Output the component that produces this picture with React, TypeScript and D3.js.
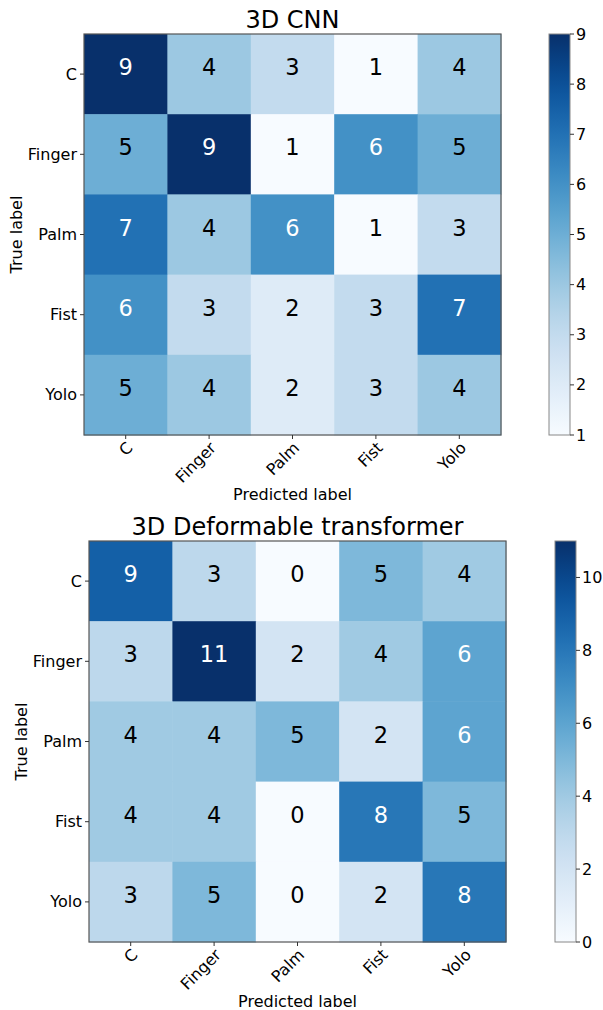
import * as d3 from "d3";

const labels = ["C", "Finger", "Palm", "Fist", "Yolo"];

const cnnTitle = "3D CNN";
const cnnValues = [
  [9, 4, 3, 1, 4],
  [5, 9, 1, 6, 5],
  [7, 4, 6, 1, 3],
  [6, 3, 2, 3, 7],
  [5, 4, 2, 3, 4],
];
const cnnTicks = [1, 2, 3, 4, 5, 6, 7, 8, 9];

const dtTitle = "3D Deformable transformer";
const dtValues = [
  [9, 3, 0, 5, 4],
  [3, 11, 2, 4, 6],
  [4, 4, 5, 2, 6],
  [4, 4, 0, 8, 5],
  [3, 5, 0, 2, 8],
];
const dtTicks = [0, 2, 4, 6, 8, 10];

const FONT = "DejaVu Sans, sans-serif";

type PanelProps = {
  id: string;
  title: string;
  values: number[][];
  ticks: number[];
  x0: number;
  y0: number;
  cbX: number;
};

function Panel({ id, title, values, ticks, x0, y0, cbX }: PanelProps) {
  const w = 417;
  const h = 401;
  const flat = values.flat();
  const vmin = d3.min(flat) ?? 0;
  const vmax = d3.max(flat) ?? 1;
  const color = d3.scaleSequential(d3.interpolateBlues).domain([vmin, vmax]);
  const thresh = (vmin + vmax) / 2;

  const x = d3.scaleBand().domain(labels).range([x0, x0 + w]);
  const y = d3.scaleBand().domain(labels).range([y0, y0 + h]);
  const cb = d3.scaleLinear().domain([vmin, vmax]).range([y0 + h, y0]);
  const cbW = 21;
  const stops = d3.range(0, 1.0001, 0.05);

  return (
    <g fontFamily={FONT}>
      <defs>
        <linearGradient id={id} x1="0" y1="1" x2="0" y2="0">
          {stops.map((t, i) => (
            <stop key={i} offset={t} stopColor={d3.interpolateBlues(t)} />
          ))}
        </linearGradient>
      </defs>
      <text x={x0 + w / 2} y={y0 - 6} fontSize={24} textAnchor="middle" fill="#000">
        {title}
      </text>

      {values.map((row, i) =>
        row.map((v, j) => (
          <g key={`${i}-${j}`}>
            <rect
              x={x(labels[j])}
              y={y(labels[i])}
              width={x.bandwidth() + 0.5}
              height={y.bandwidth() + 0.5}
              fill={color(v)}
            />
            <text
              x={(x(labels[j]) ?? 0) + x.bandwidth() / 2}
              y={(y(labels[i]) ?? 0) + y.bandwidth() / 2 - 7}
              fontSize={22.5}
              textAnchor="middle"
              dominantBaseline="central"
              fill={v > thresh ? "#fff" : "#000"}
            >
              {v}
            </text>
          </g>
        ))
      )}
      <rect x={x0} y={y0} width={w} height={h} fill="none" stroke="#555" strokeWidth={1.2} />

      {labels.map((l) => {
        const cy = (y(l) ?? 0) + y.bandwidth() / 2;
        return (
          <g key={"y" + l}>
            <line x1={x0 - 4} x2={x0} y1={cy} y2={cy} stroke="#333" />
            <text x={x0 - 7} y={cy} fontSize={16} textAnchor="end" dominantBaseline="central">
              {l}
            </text>
          </g>
        );
      })}
      {labels.map((l) => {
        const cx = (x(l) ?? 0) + x.bandwidth() / 2;
        return (
          <g key={"x" + l}>
            <line x1={cx} x2={cx} y1={y0 + h} y2={y0 + h + 4} stroke="#333" />
            <text
              transform={`translate(${cx + 4},${y0 + h + 10}) rotate(-45)`}
              fontSize={16}
              textAnchor="end"
              dominantBaseline="central"
            >
              {l}
            </text>
          </g>
        );
      })}
      <text x={x0 + w / 2} y={y0 + h + 65} fontSize={16} textAnchor="middle">
        Predicted label
      </text>
      <text
        transform={`translate(${x0 - 62},${y0 + h / 2}) rotate(-90)`}
        fontSize={16}
        textAnchor="middle"
      >
        True label
      </text>

      <rect x={cbX} y={y0} width={cbW} height={h} fill={`url(#${id})`} stroke="#888" strokeWidth={1} />
      {ticks.map((t) => (
        <g key={"c" + t}>
          <line x1={cbX + cbW} x2={cbX + cbW + 4} y1={cb(t)} y2={cb(t)} stroke="#333" />
          <text x={cbX + cbW + 6} y={cb(t)} fontSize={16} dominantBaseline="central">
            {t}
          </text>
        </g>
      ))}
    </g>
  );
}

export default function App() {
  return (
    <svg
      width={603}
      height={1010}
      style={{ position: "absolute", left: 0, top: 0, background: "#fff" }}
    >
      <rect width={603} height={1010} fill="#fff" />
      <Panel id="g1" title={cnnTitle} values={cnnValues} ticks={cnnTicks} x0={84} y0={34} cbX={549} />
      <Panel id="g2" title={dtTitle} values={dtValues} ticks={dtTicks} x0={89} y0={541} cbX={555} />
    </svg>
  );
}
